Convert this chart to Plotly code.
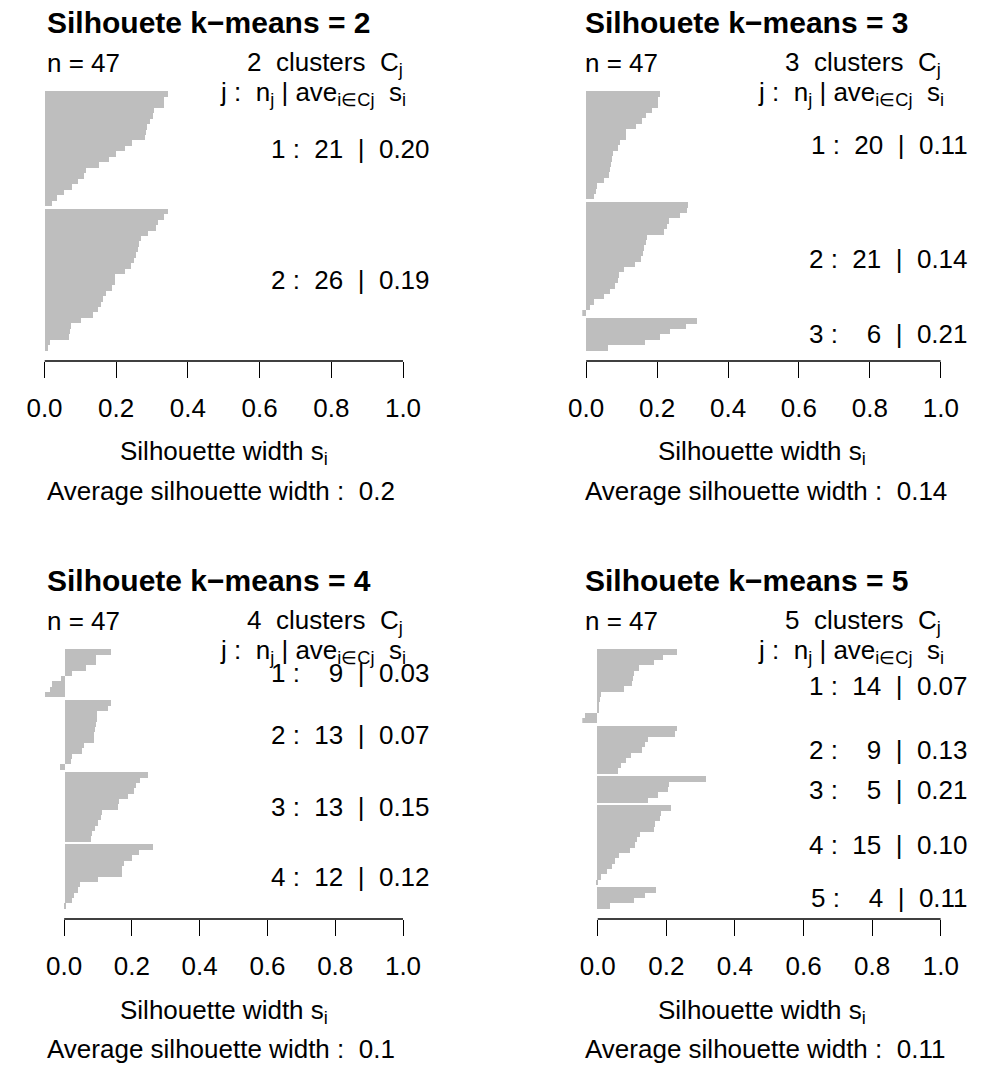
import plotly.graph_objects as go

# ---------------------------------------------------------------
# Silhouette widths of each observation, grouped by cluster and
# sorted in decreasing order inside each cluster (k-means, n = 47)
# ---------------------------------------------------------------
n_obs = 47
k_values = [2, 3, 4, 5]

sil_k2 = [
    [0.342, 0.331, 0.331, 0.303, 0.300, 0.293, 0.285, 0.282, 0.280, 0.242, 0.223,
     0.198, 0.178, 0.151, 0.113, 0.110, 0.093, 0.075, 0.054, 0.034, 0.019],
    [0.342, 0.331, 0.315, 0.310, 0.288, 0.268, 0.261, 0.258, 0.253, 0.247, 0.239,
     0.223, 0.194, 0.194, 0.186, 0.169, 0.161, 0.155, 0.147, 0.134, 0.101, 0.072,
     0.069, 0.066, 0.015, 0.007],
]

sil_k3 = [
    [0.208, 0.202, 0.202, 0.186, 0.169, 0.159, 0.142, 0.114, 0.114, 0.095, 0.091,
     0.077, 0.073, 0.070, 0.068, 0.064, 0.051, 0.030, 0.028, 0.024],
    [0.287, 0.284, 0.264, 0.235, 0.230, 0.221, 0.173, 0.169, 0.164, 0.160, 0.155,
     0.139, 0.107, 0.094, 0.091, 0.081, 0.068, 0.051, 0.024, 0.011, -0.011],
    [0.314, 0.281, 0.237, 0.210, 0.166, 0.062],
]

sil_k4 = [
    [0.138, 0.092, 0.092, 0.064, 0.021, -0.010, -0.038, -0.042, -0.058],
    [0.138, 0.129, 0.095, 0.095, 0.092, 0.090, 0.088, 0.086, 0.057, 0.050, 0.023,
     0.020, -0.013],
    [0.246, 0.222, 0.211, 0.205, 0.187, 0.159, 0.157, 0.110, 0.106, 0.099, 0.091,
     0.081, 0.078],
    [0.262, 0.220, 0.200, 0.174, 0.170, 0.169, 0.097, 0.044, 0.038, 0.028, 0.023,
     0.004],
]

sil_k5 = [
    [0.233, 0.190, 0.165, 0.120, 0.106, 0.105, 0.102, 0.078, 0.010, 0.008, 0.005,
     0.003, -0.037, -0.045],
    [0.233, 0.225, 0.148, 0.140, 0.129, 0.098, 0.084, 0.070, 0.059],
    [0.315, 0.208, 0.205, 0.177, 0.148],
    [0.213, 0.186, 0.183, 0.169, 0.164, 0.124, 0.116, 0.110, 0.096, 0.063, 0.051,
     0.043, 0.029, 0.010, -0.003],
    [0.171, 0.140, 0.107, 0.036],
]

panels = [sil_k2, sil_k3, sil_k4, sil_k5]

tick_vals = [0.0, 0.2, 0.4, 0.6, 0.8, 1.0]
tick_text = ["0.0", "0.2", "0.4", "0.6", "0.8", "1.0"]

# ---------------------------------------------------------------
# page geometry (pixels)
# ---------------------------------------------------------------
W, H = 993, 1070
FONT = "Liberation Sans, Arial, Helvetica, sans-serif"
FS = 26          # regular text
FS_TITLE = 30    # panel titles
BAR_COLOR = "#BEBEBE"

# plot region of the top-left panel; the others are shifted copies
REG_L, REG_R = 27.5, 399.5
REG_T, REG_B = 81.0, 361.0
DX, DY = 558.0, 558.0
offsets = [(0, 0), (DX, 0), (0, DY), (DX, DY)]


def px(x):
    return x / W


def py(y):
    return 1 - y / H


def fmt_avg(v):
    return "%.2f" % round(v, 2)


def fmt_overall(v):
    s = "%.2f" % round(v, 2)
    return s.rstrip("0").rstrip(".")


def txt(text, x, y, xanchor, size=FS, bold=False, yref="paper"):
    return dict(
        text=("<b>%s</b>" % text) if bold else text,
        x=x, y=y, xref="paper", yref=yref,
        xanchor=xanchor, yanchor="middle", showarrow=False,
        font=dict(family=FONT, size=size, color="black"),
    )


NB = "\u00a0"
fig = go.Figure()
layout = dict(
    width=W, height=H,
    margin=dict(l=0, r=0, t=0, b=0),
    paper_bgcolor="white", plot_bgcolor="white",
    showlegend=False,
    font=dict(family=FONT, size=FS, color="black"),
)
annotations = []
shapes = []

for i, (k, clusters) in enumerate(zip(k_values, panels)):
    ox, oy = offsets[i]
    ax = "" if i == 0 else str(i + 1)
    xname, yname = "x" + ax, "y" + ax

    # vertical positions: cluster 1 on top, 0.5 bar gap between clusters
    total = sum(len(c) for c in clusters) + 0.5 * (len(clusters) - 1)
    ys, xs, centers = [], [], []
    top = total
    for c in clusters:
        start = top
        for v in c:
            ys.append(top - 0.5)
            xs.append(v)
            top -= 1
        centers.append((start + top) / 2)
        top -= 0.5

    all_vals = [v for c in clusters for v in c]
    xmin = min(0.0, min(all_vals))

    fig.add_trace(go.Bar(
        x=xs, y=ys, orientation="h", width=1.0,
        marker=dict(color=BAR_COLOR, line=dict(width=0)),
        xaxis=xname, yaxis=yname, hoverinfo="skip",
    ))

    layout["xaxis" + ax] = dict(
        domain=[px(REG_L + ox), px(REG_R + ox)],
        range=[xmin, 1.0], anchor=yname,
        tickvals=tick_vals, ticktext=tick_text,
        ticks="outside", ticklen=16, tickwidth=1.3, tickcolor="black",
        ticklabelstandoff=8,
        showline=False, showgrid=False, zeroline=False,
        tickfont=dict(family=FONT, size=FS, color="black"),
        fixedrange=True,
    )
    layout["yaxis" + ax] = dict(
        domain=[py(REG_B + oy), py(REG_T + oy)],
        range=[-0.04 * total, 1.04 * total], anchor=xname,
        visible=False, fixedrange=True,
    )

    # axis line from 0 to 1
    shapes.append(dict(
        type="line", xref=xname, yref=yname + " domain",
        x0=0, x1=1, y0=0, y1=0, line=dict(color="black", width=1.3),
    ))

    # panel texts
    annotations.append(txt("Silhouete k\u2212means = %d" % k,
                           px(28 + ox), py(22 + oy), "left",
                           size=FS_TITLE, bold=True))
    annotations.append(txt("n = %d" % n_obs, px(28 + ox), py(63 + oy), "left"))
    annotations.append(txt("%d%sclusters%sC<sub>j</sub>" % (k, NB * 2, NB * 2),
                           px(402 + ox), py(63 + oy), "right"))
    annotations.append(txt(
        "j%s:%sn<sub>j</sub>%s|%save<sub>i\u2208Cj</sub>%ss<sub>i</sub>"
        % (NB, NB * 2, NB, NB, NB * 2),
        px(405 + ox), py(93 + oy), "right"))
    for j, (c, yc) in enumerate(zip(clusters, centers)):
        cnt = str(len(c))
        pad = NB * 2 if len(cnt) == 1 else ""
        label = "%d%s:%s%s%s%s|%s%s" % (
            j + 1, NB, NB * 2, pad, cnt, NB * 2, NB * 2,
            fmt_avg(sum(c) / len(c)))
        annotations.append(txt(label, px(430 + ox), yc, "right", yref=yname))
    annotations.append(txt("Silhouette width s<sub>i</sub>",
                           px((REG_L + REG_R) / 2 + ox), py(453 + oy), "center"))
    annotations.append(txt(
        "Average silhouette width :%s%s"
        % (NB * 2, fmt_overall(sum(all_vals) / len(all_vals))),
        px(28 + ox), py(491 + oy), "left"))

layout["annotations"] = annotations
layout["shapes"] = shapes
layout["bargap"] = 0
fig.update_layout(**layout)

fig.write_html("out.html")
